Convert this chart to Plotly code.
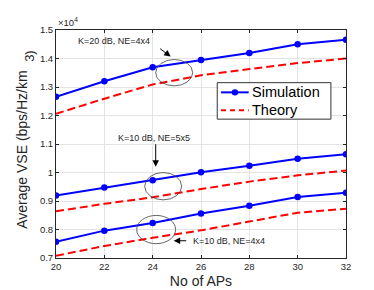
import plotly.graph_objects as go

aps = [20, 22, 24, 26, 28, 30, 32]
sim_k20_ne44 = [1.266, 1.320, 1.369, 1.395, 1.419, 1.450, 1.466]
th_k20_ne44 = [1.206, 1.259, 1.309, 1.341, 1.363, 1.384, 1.400]
sim_k10_ne55 = [0.919, 0.947, 0.973, 1.001, 1.024, 1.048, 1.064]
th_k10_ne55 = [0.864, 0.890, 0.913, 0.942, 0.968, 0.990, 1.007]
sim_k10_ne44 = [0.757, 0.796, 0.823, 0.856, 0.883, 0.914, 0.929]
th_k10_ne44 = [0.708, 0.742, 0.771, 0.797, 0.828, 0.859, 0.873]
ytick_vals = [0.7, 0.8, 0.9, 1.0, 1.1, 1.2, 1.3, 1.4, 1.5]
ytick_text = ["0.7", "0.8", "0.9", "1", "1.1", "1.2", "1.3", "1.4", "1.5"]
xtick_vals = [20, 22, 24, 26, 28, 30, 32]
legend_names = ["Simulation", "Theory"]

FONT = "Liberation Sans, Arial, sans-serif"
TXT = "#262626"
BLUE = "#0000ff"
RED = "#ff0000"

fig = go.Figure()
groups = [(sim_k20_ne44, th_k20_ne44), (sim_k10_ne55, th_k10_ne55), (sim_k10_ne44, th_k10_ne44)]
for s, t in groups:
    fig.add_trace(go.Scatter(x=aps, y=s, mode="lines+markers", name=legend_names[0],
                             line=dict(color=BLUE, width=2), marker=dict(color=BLUE, size=6.5),
                             showlegend=False))
    fig.add_trace(go.Scatter(x=aps, y=t, mode="lines", name=legend_names[1],
                             line=dict(color=RED, width=2, dash="8px,4px"),
                             showlegend=False))

axis_common = dict(showline=True, linecolor=TXT, linewidth=1, mirror="allticks",
                   ticks="inside", ticklen=3, tickcolor=TXT,
                   showgrid=True, gridcolor="#e3e3e3", gridwidth=1, zeroline=False,
                   tickfont=dict(family=FONT, size=9.5, color=TXT))

fig.update_xaxes(range=[20, 32], tickvals=xtick_vals, **axis_common,
                 title=dict(text="No of APs", font=dict(family=FONT, size=14, color=TXT), standoff=4))
fig.update_yaxes(range=[0.7, 1.5], tickvals=ytick_vals, ticktext=ytick_text, **axis_common)

# ellipses
for x0, x1, y0, y1 in [(24.125, 25.656, 1.304, 1.3964), (23.67, 25.20, 0.904, 0.9998), (23.34, 24.95, 0.7503, 0.8494)]:
    fig.add_shape(type="circle", xref="x", yref="y", x0=x0, x1=x1, y0=y0, y1=y1,
                  line=dict(color="#404040", width=0.8))

# manual legend
fig.add_shape(type="rect", xref="paper", yref="paper", x0=0.556, x1=0.948, y0=0.609, y1=0.769,
              fillcolor="white", line=dict(color="#333333", width=1), layer="above")
fig.add_shape(type="line", xref="paper", yref="paper", x0=0.569, x1=0.6645, y0=0.7265, y1=0.7265,
              line=dict(color=BLUE, width=2), layer="above")
fig.add_shape(type="circle", xref="paper", yref="paper", xsizemode="pixel", ysizemode="pixel",
              xanchor=0.617, yanchor=0.7265, x0=-3.2, x1=3.2, y0=-3.2, y1=3.2,
              fillcolor=BLUE, line=dict(color=BLUE, width=0), layer="above")
fig.add_shape(type="line", xref="paper", yref="paper", x0=0.569, x1=0.6645, y0=0.648, y1=0.648,
              line=dict(color=RED, width=2, dash="5px,4px"), layer="above")

ann_font = dict(family=FONT, size=9, color=TXT)
annotations = [
    dict(x=0.669, y=0.7265, xref="paper", yref="paper", text=legend_names[0], showarrow=False,
         xanchor="left", yanchor="middle", font=dict(family=FONT, size=14.5, color="#000000")),
    dict(x=0.669, y=0.648, xref="paper", yref="paper", text=legend_names[1], showarrow=False,
         xanchor="left", yanchor="middle", font=dict(family=FONT, size=14.5, color="#000000")),
    dict(x=20.815, y=1.461, xref="x", yref="y", text="K=20 dB, NE=4x4", showarrow=False,
         xanchor="left", yanchor="middle", font=ann_font),
    dict(x=22.47, y=1.1195, xref="x", yref="y", text="K=10 dB, NE=5x5", showarrow=False,
         xanchor="left", yanchor="middle", font=ann_font),
    dict(x=25.573, y=0.7605, xref="x", yref="y", text="K=10 dB, NE=4x4", showarrow=False,
         xanchor="left", yanchor="middle", font=ann_font),
    dict(x=24.745, y=1.4067, xref="x", yref="y", text="", showarrow=True, ax=-12, ay=-9,
         arrowhead=2, arrowsize=1.3, arrowwidth=1, arrowcolor="#000000"),
    dict(x=24.125, y=1.0203, xref="x", yref="y", text="", showarrow=True, ax=0, ay=-24,
         arrowhead=2, arrowsize=1.3, arrowwidth=1, arrowcolor="#000000"),
    dict(x=24.87, y=0.7605, xref="x", yref="y", text="", showarrow=True, ax=14, ay=0,
         arrowhead=2, arrowsize=1.3, arrowwidth=1, arrowcolor="#000000"),
    dict(x=0.0, y=1.0, xref="paper", yref="paper", text="×10<sup>4</sup>", showarrow=False,
         xanchor="left", yanchor="bottom", font=dict(family=FONT, size=9.5, color=TXT)),
    dict(x=-0.115, y=0.473, xref="paper", yref="paper", text="Average VSE (bps/Hz/km",
         textangle=-90, showarrow=False, xanchor="center", yanchor="middle",
         font=dict(family=FONT, size=14, color=TXT)),
    dict(x=-0.092, y=0.888, xref="paper", yref="paper", text="3)",
         textangle=-90, showarrow=False, xanchor="center", yanchor="middle",
         font=dict(family=FONT, size=13, color=TXT)),
]
fig.update_layout(annotations=annotations)

fig.update_layout(
    width=374, height=290,
    margin=dict(l=48, r=36, t=22, b=34),
    paper_bgcolor="white", plot_bgcolor="white",
    font=dict(family=FONT, color=TXT),
    showlegend=False,
)

fig.write_html("out.html")
